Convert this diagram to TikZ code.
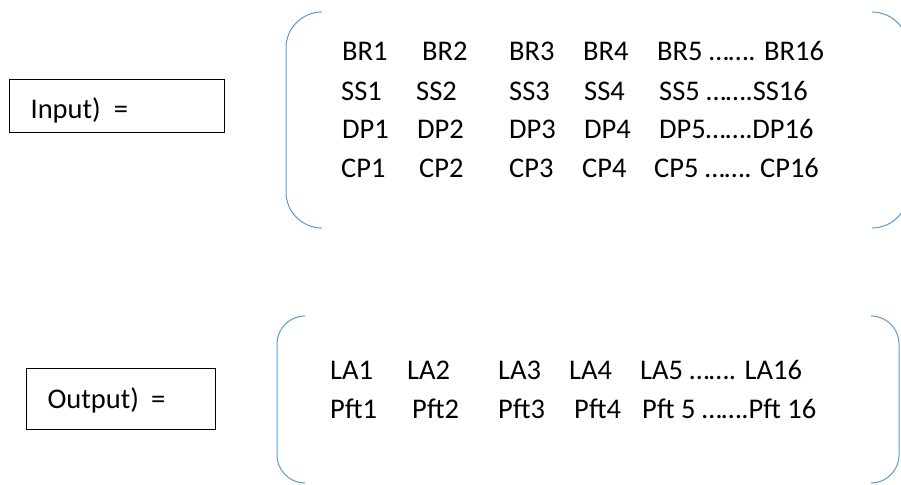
\documentclass[tikz,border=0pt]{standalone}
\usepackage{fontspec}
\setmainfont{Carlito}
\usetikzlibrary{positioning}
\definecolor{bracketblue}{RGB}{91,155,213}

\begin{document}
\begin{tikzpicture}[
    x=1pt, y=-1pt,
    every node/.style={font=\fontsize{28.5}{34}\selectfont},
    box/.style={draw=black, line width=1.2pt, inner xsep=21pt, inner ysep=0pt, align=left, anchor=north west},
    entry/.style={inner sep=0pt, anchor=base west},
    bracket/.style={draw=bracketblue, line width=1pt}
  ]
  \useasboundingbox (0,0) rectangle (901,484);

  % input side
  \node[box, text width=173pt, text height=39pt, text depth=14pt] (in_box) at (9,79) {Input)\kern13pt=};
  \draw[bracket, rounded corners=36pt] (322,12) -| (286,228) -- (322,228);
  \draw[bracket, rounded corners=36pt] (872,12) -| (908,228) -- (872,228);
  \foreach \x/\t [count=\i] in {342/BR1, 422/BR2, 509/BR3, 583/BR4, 657/{BR5 ……. BR16}}
    \node[entry] (br\i) at (\x,61) {\t};
  \foreach \x/\t [count=\i] in {341/SS1, 416/SS2, 509/SS3, 584/SS4, 659/{SS5 …….SS16}}
    \node[entry] (ss\i) at (\x,100) {\t};
  \foreach \x/\t [count=\i] in {342/DP1, 417/DP2, 509/DP3, 584/DP4, 659/{DP5…….DP16}}
    \node[entry] (dp\i) at (\x,138) {\t};
  \foreach \x/\t [count=\i] in {341/CP1, 419/CP2, 509/CP3, 582/CP4, 654/{CP5 ……. CP16}}
    \node[entry] (cp\i) at (\x,177) {\t};

  % output side
  \node[box, text width=147pt, text height=39.5pt, text depth=21.5pt] (out_box) at (26,368) {Output)\kern12pt=};
  \draw[bracket, rounded corners=28pt] (305,316) -| (277,483) -- (305,483);
  \draw[bracket, rounded corners=28pt] (871,316) -| (899,483) -- (871,483);
  \foreach \x/\t [count=\i] in {330/LA1, 407/LA2, 498/LA3, 569/LA4, 640/{LA5 ……. LA16}}
    \node[entry] (la\i) at (\x,379) {\t};
  \foreach \x/\t [count=\i] in {330/Pft1, 412/Pft2, 498/Pft3, 574/Pft4, 642/{Pft 5 …….Pft 16}}
    \node[entry] (pft\i) at (\x,418) {\t};
\end{tikzpicture}
\end{document}
